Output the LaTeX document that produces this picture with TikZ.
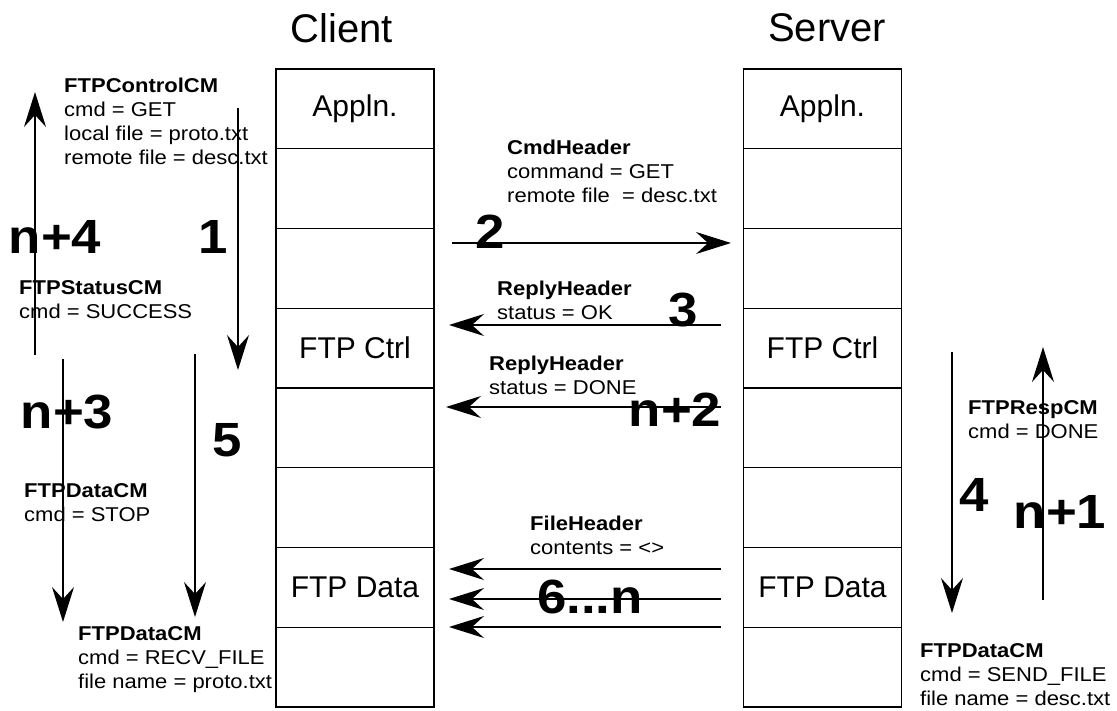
\documentclass[tikz,border=0pt]{standalone}
\usepackage{fontspec}
\setmainfont{Liberation Sans}
\newfontfamily\lblfont[FakeStretch=1.1]{Liberation Sans}
\newfontfamily\numfont[FakeStretch=1.1]{Liberation Sans}
\usetikzlibrary{arrows.meta}
\begin{document}
\begin{tikzpicture}[x=1pt,y=-1pt,
  cell/.style={draw,line width=1.4pt,minimum width=158pt,minimum height=79.75pt,inner sep=0pt,
    font=\fontsize{30}{36}\selectfont},
  title/.style={font=\fontsize{40}{44}\selectfont,inner sep=0pt},
  lbl/.style={anchor=north west,align=left,inner sep=0pt,font=\lblfont\fontsize{20}{24}\selectfont},
  num/.style={inner sep=0pt,font=\numfont\bfseries\fontsize{48}{48}\selectfont},
  arr/.style={draw,line width=1.5pt,-{Stealth[length=35pt,width=22pt,inset=12pt]}}]
\useasboundingbox (0,0) rectangle (1117,710);
\fill[white] (0,0) rectangle (1117,710);
% titles
\node[title] (tc) at (342,28) {Client};
\node[title] (ts) at (827,28) {Server};
% stacks
\foreach \i/\t in {1/Appln.,2/,3/,4/FTP Ctrl,5/,6/,7/FTP Data,8/}{
  \node[cell] (c\i) at (355,{69+79.75*\i-39.875}) {\t};
  \node[cell] (s\i) at (822.5,{69+79.75*\i-39.875}) {\t};
}
% arrow end points
\coordinate (a1s) at (238,108);  \coordinate (a1e) at (238,370);
\coordinate (n4s) at (35,355);   \coordinate (n4e) at (35,92);
\coordinate (n3s) at (63,359);   \coordinate (n3e) at (63,622);
\coordinate (a5s) at (195,354);  \coordinate (a5e) at (195,617);
\coordinate (a2s) at (452,243);  \coordinate (a2e) at (731,243);
\coordinate (a3s) at (721,325);  \coordinate (a3e) at (449,325);
\coordinate (an2s) at (721,407); \coordinate (an2e) at (446,407);
\coordinate (a6s) at (721,569);  \coordinate (a6e) at (449,569);
\coordinate (a7s) at (721,599);  \coordinate (a7e) at (449,599);
\coordinate (a8s) at (721,627);  \coordinate (a8e) at (449,627);
\coordinate (a4s) at (952,352);  \coordinate (a4e) at (952,613);
\coordinate (an1s) at (1043,600);\coordinate (an1e) at (1043,347);
% arrows
\foreach \a in {a1,n4,n3,a5,a2,a3,an2,a6,a7,a8,a4,an1}
  \draw[arr] (\a s) -- (\a e);
% labels
\node[lbl] (l1) at (64,78) {\textbf{FTPControlCM}\\cmd = GET\\local file = proto.txt\\remote file = desc.txt};
\node[lbl] (l2) at (19,280) {\textbf{FTPStatusCM}\\cmd = SUCCESS};
\node[lbl] (l3) at (24,483) {\textbf{FTPDataCM}\\cmd = STOP};
\node[lbl] (l4) at (78,626) {\textbf{FTPDataCM}\\cmd = RECV\_FILE\\file name = proto.txt};
\node[lbl] (l5) at (507,140) {\textbf{CmdHeader}\\command = GET\\remote file\ \ = desc.txt};
\node[lbl] (l6) at (497,281) {\textbf{ReplyHeader}\\status = OK};
\node[lbl] (l7) at (489,356) {\textbf{ReplyHeader}\\status = DONE};
\node[lbl] (l8) at (530,516) {\textbf{FileHeader}\\contents = <>};
\node[lbl] (l9) at (968,400) {\textbf{FTPRespCM}\\cmd = DONE};
\node[lbl] (l10) at (920,643) {\textbf{FTPDataCM}\\cmd = SEND\_FILE\\file name = desc.txt};
% step numbers
\node[num] (m1) at (55,237) {n+4};
\node[num] (m2) at (213,237) {1};
\node[num] (m3) at (67,412) {n+3};
\node[num] (m4) at (227,440) {5};
\node[num] (m5) at (490,232) {2};
\node[num] (m6) at (683,310) {3};
\node[num] (m7) at (675,410) {n+2};
\node[num] (m8) at (590,597) {6...n};
\node[num] (m9) at (974,495) {4};
\node[num] (m10) at (1060,512) {n+1};
\end{tikzpicture}
\end{document}
